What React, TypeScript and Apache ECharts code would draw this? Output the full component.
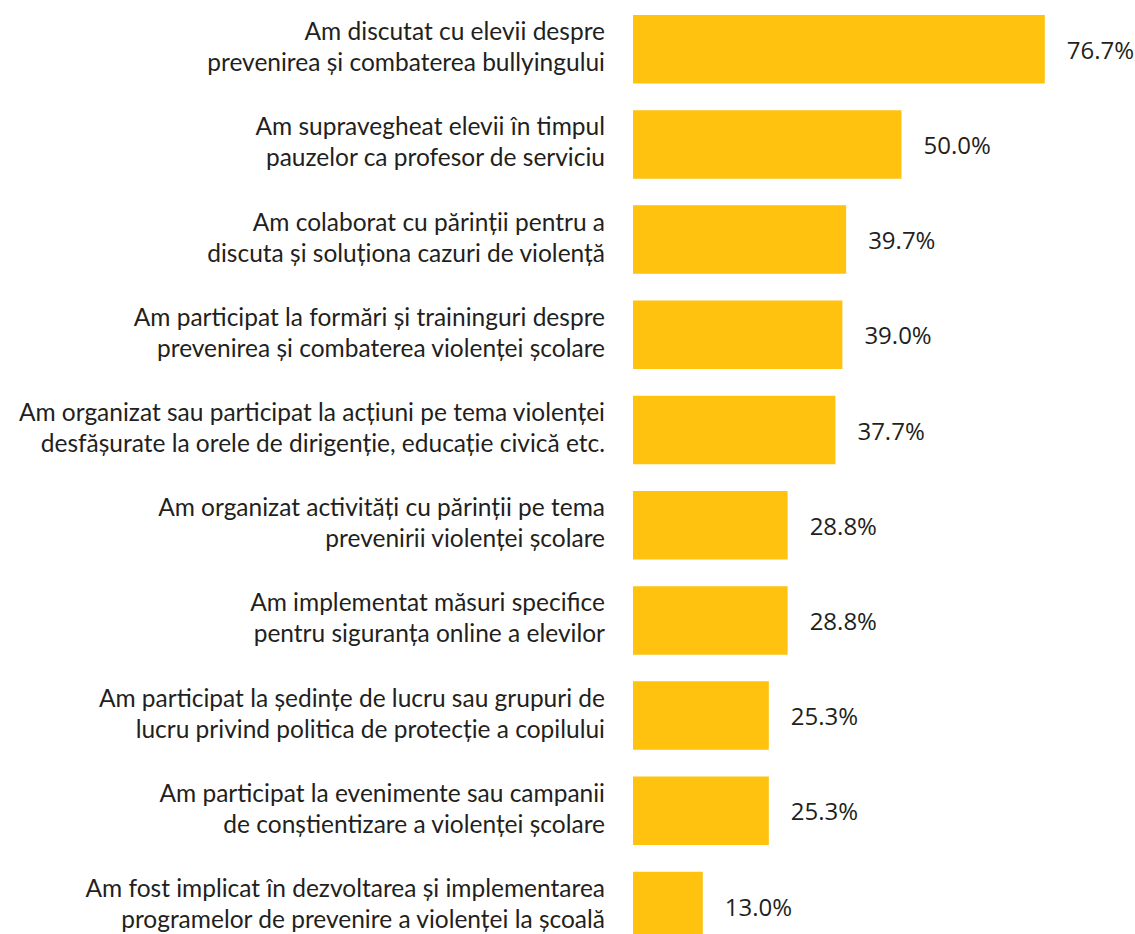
import React, { useEffect, useRef } from "react";
import * as echarts from "echarts";

const categories = [
  "Am discutat cu elevii despre\nprevenirea și combaterea bullyingului",
  "Am supravegheat elevii în timpul\npauzelor ca profesor de serviciu",
  "Am colaborat cu părinții pentru a\ndiscuta și soluționa cazuri de violență",
  "Am participat la formări și traininguri despre\nprevenirea și combaterea violenței școlare",
  "Am organizat sau participat la acțiuni pe tema violenței\ndesfășurate la orele de dirigenție, educație civică etc.",
  "Am organizat activități cu părinții pe tema\nprevenirii violenței școlare",
  "Am implementat măsuri specifice\npentru siguranța online a elevilor",
  "Am participat la ședințe de lucru sau grupuri de\nlucru privind politica de protecție a copilului",
  "Am participat la evenimente sau campanii\nde conștientizare a violenței școlare",
  "Am fost implicat în dezvoltarea și implementarea\nprogramelor de prevenire a violenței la școală",
];

const values = [76.7, 50.0, 39.7, 39.0, 37.7, 28.8, 28.8, 25.3, 25.3, 13.0];

export default function App() {
  const ref = useRef<HTMLDivElement>(null);
  useEffect(() => {
    if (!ref.current) return;
    const chart = echarts.init(ref.current, undefined, { renderer: "svg" });
    chart.setOption({
      animation: false,
      grid: { left: 633, top: 1.6, width: 502, height: 952, containLabel: false },
      xAxis: {
        type: "value",
        min: 0,
        max: 93.5,
        show: false,
      },
      yAxis: {
        type: "category",
        inverse: true,
        data: categories,
        axisLine: { show: false },
        axisTick: { show: false },
        axisLabel: {
          margin: 28,
          align: "right",
          formatter: (v: string) =>
            v
              .split("\n")
              .map((l) => `{a|${l}}`)
              .join("\n") + "\n{s| }",
          rich: {
            a: {
              fontFamily: "Lato",
              fontSize: 24.5,
              lineHeight: 31,
              color: "#231F20",
              align: "right",
            },
            s: { fontSize: 1, lineHeight: 6 },
          },
        },
      },
      series: [
        {
          type: "bar",
          data: values,
          barWidth: 68.5,
          itemStyle: { color: "#FEC20F" },
          label: {
            show: true,
            position: "right",
            distance: 22,
            formatter: (p: any) => p.value.toFixed(1) + "%",
            fontFamily: "Open Sans",
            fontSize: 24,
            color: "#231F20",
          },
        },
      ],
    });
    return () => chart.dispose();
  }, []);
  return (
    <div
      ref={ref}
      style={{ position: "absolute", left: 0, top: 0, width: 1135, height: 960 }}
    />
  );
}
